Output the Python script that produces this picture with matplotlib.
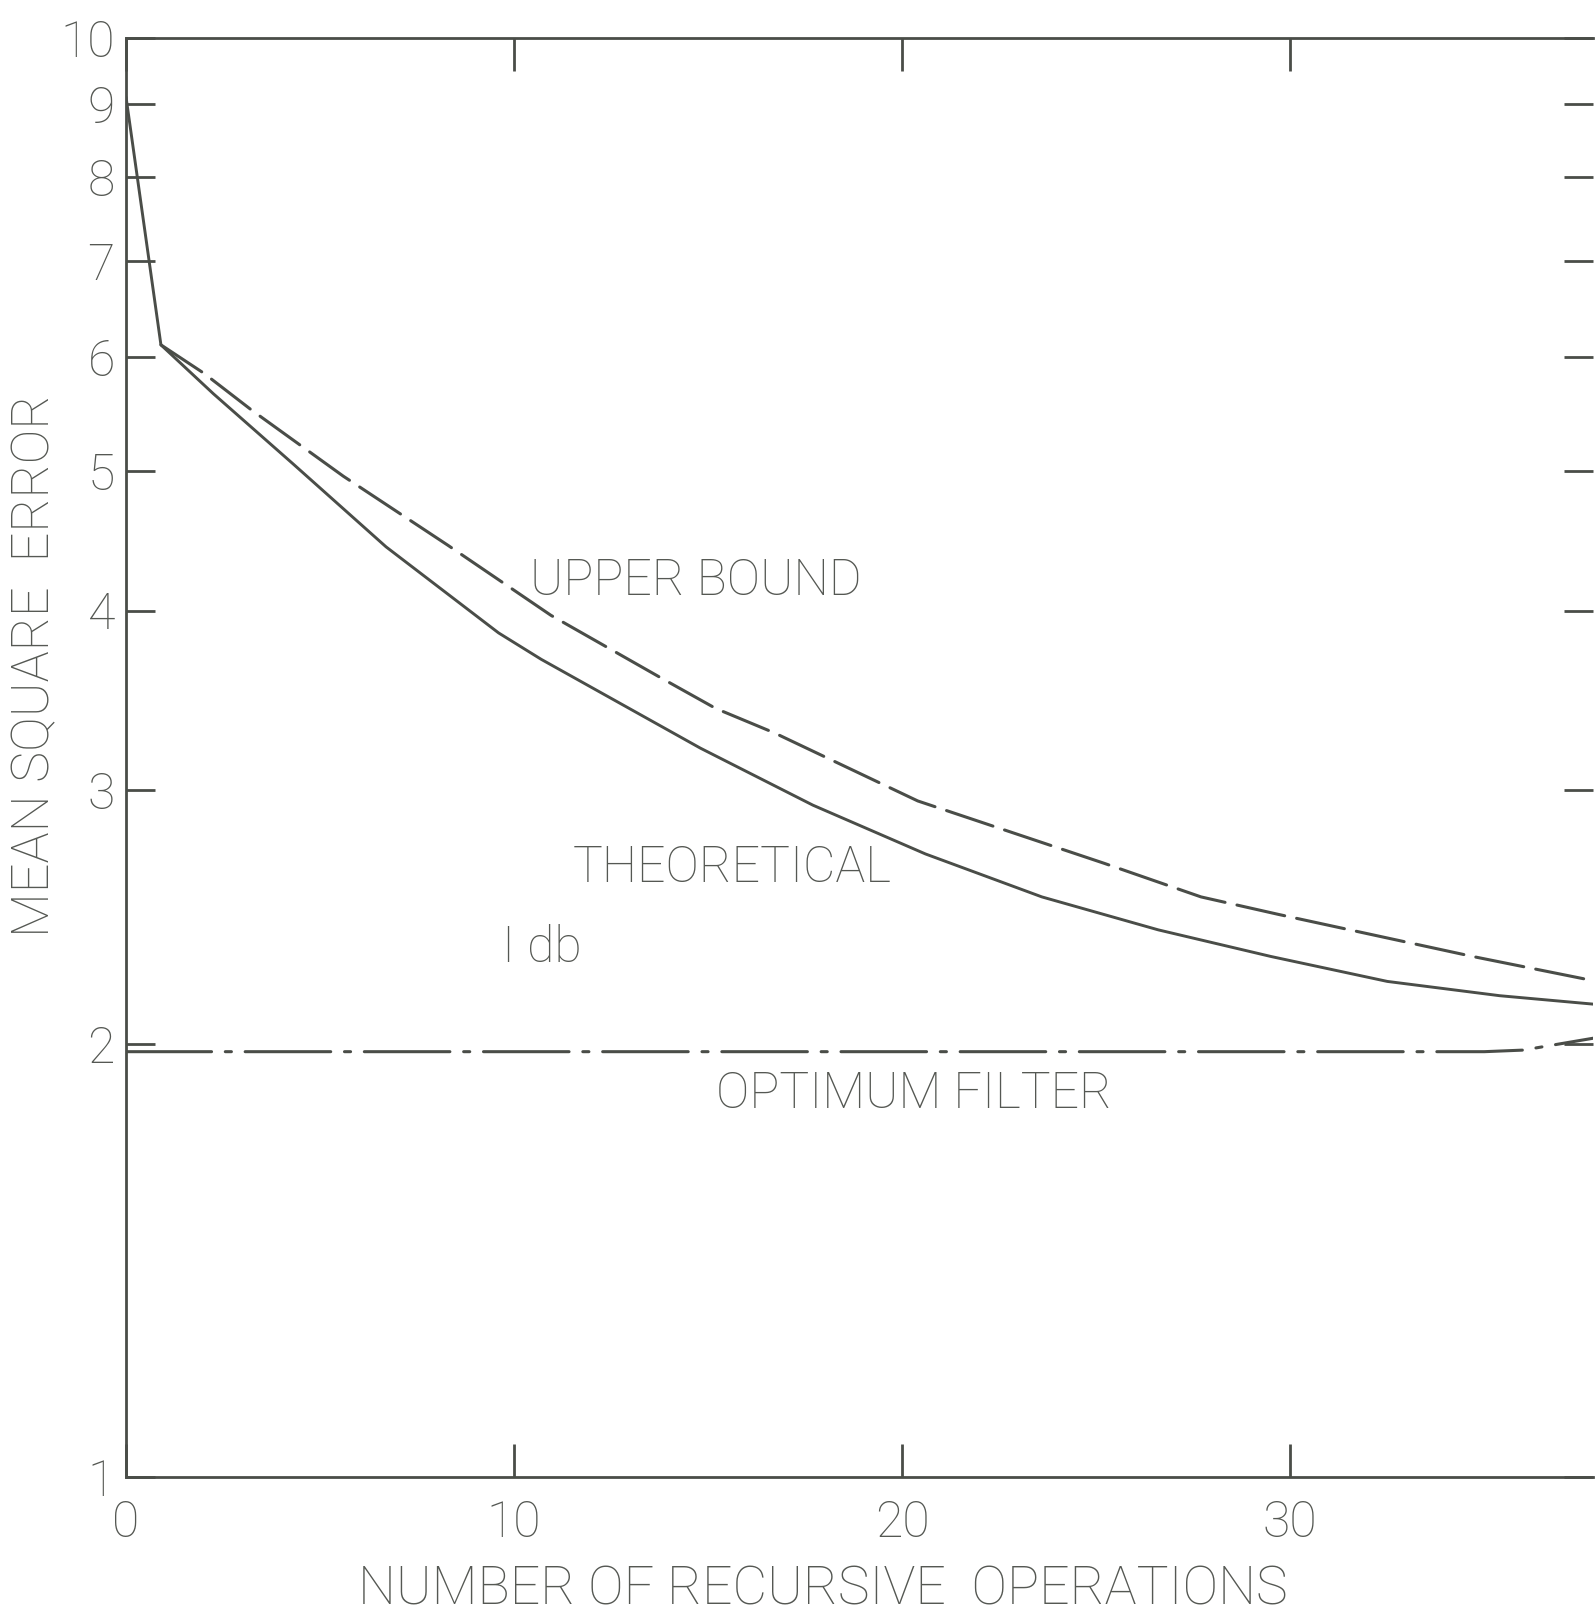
import matplotlib
matplotlib.use("Agg")
import matplotlib.pyplot as plt
from matplotlib.ticker import FixedLocator, NullLocator

# ---- data ----
theo_x = [0, 0.9, 2.25, 4.3, 6.7, 9.6, 10.7, 14.8, 17.7, 20.6, 23.6, 26.6, 29.5,
          32.5, 35.4, 37.9]
theo_y = [9.1, 6.12, 5.66, 5.06, 4.43, 3.86, 3.70, 3.21, 2.93, 2.71, 2.53, 2.40,
          2.30, 2.21, 2.16, 2.13]

upper_x = [0.9, 2.0, 3.25, 5.6, 8.3, 10.95, 13.8, 15.2, 16.7, 20.4, 25.2, 27.7,
           29.7, 34.7, 37.9]
upper_y = [6.12, 5.85, 5.51, 4.96, 4.44, 3.97, 3.59, 3.42, 3.29, 2.95, 2.67, 2.53,
           2.46, 2.30, 2.21]

opt_x = [0, 10, 20, 30, 35, 36.0, 37.9]
opt_y = [1.975, 1.975, 1.975, 1.975, 1.975, 1.98, 2.02]

x_ticks = [0, 10, 20, 30]
x_ticklabels = ["0", "10", "20", "30"]
y_ticks = [1, 2, 3, 4, 5, 6, 7, 8, 9, 10]
y_ticklabels = ["1", "2", "3", "4", "5", "6", "7", "8", "9", "10"]

annotations = [("UPPER BOUND", 10.4, 4.19), ("THEORETICAL", 11.5, 2.65),
               ("I db", 9.7, 2.33), ("OPTIMUM FILTER", 15.2, 1.845)]

# ---- figure ----
W, H = 1596, 1621
fig = plt.figure(figsize=(W / 100, H / 100), dpi=100)
left, right, top, bottom = 126, 1593, 38, 1477
ax = fig.add_axes([left / W, 1 - bottom / H, (right - left) / W, (bottom - top) / H])

ink = "#4a4d48"
txt = "#555853"
FONT = "Roboto"
FS = 36
WEIGHT = "light"

ax.plot(theo_x, theo_y, color=ink, lw=2.1, solid_capstyle="round")
ax.plot(upper_x, upper_y, color=ink, lw=2.2, dashes=(16, 4), dash_capstyle="round")
ax.plot(opt_x, opt_y, color=ink, lw=2.2, dashes=(28, 4.5, 2, 4.5), dash_capstyle="round")

ax.set_yscale("log")
ax.set_xlim(0, 37.8)
ax.set_ylim(1, 10)
ax.yaxis.set_major_locator(FixedLocator(y_ticks))
ax.yaxis.set_minor_locator(NullLocator())
ax.set_yticklabels(y_ticklabels)
ax.set_xticks(x_ticks)
ax.set_xticklabels(x_ticklabels)

for s in ["left", "bottom", "top"]:
    ax.spines[s].set_color(ink)
    ax.spines[s].set_linewidth(2.0)
ax.spines["right"].set_visible(False)

ax.tick_params(axis="y", which="major", direction="in", length=21, width=2.0,
               color=ink, left=True, right=True, pad=8, labelsize=FS, labelcolor=txt)
ax.tick_params(axis="x", which="major", direction="in", length=24, width=2.0,
               color=ink, top=True, bottom=True, pad=16, labelsize=FS, labelcolor=txt)
for lab in ax.get_xticklabels() + ax.get_yticklabels():
    lab.set_family(FONT)
    lab.set_weight(WEIGHT)

for s, xv, yv in annotations:
    ax.text(xv, yv, s, fontsize=FS, family=FONT, weight=WEIGHT, color=txt,
            ha="left", va="center")

fig.text(823 / W, 1 - 1590 / H, "NUMBER OF RECURSIVE  OPERATIONS", fontsize=38.5,
         family=FONT, weight=WEIGHT, color=txt, ha="center", va="center")
fig.text(35 / W, 1 - 666 / H, "MEAN SQUARE  ERROR", fontsize=37.5, rotation=90,
         family=FONT, weight=WEIGHT, color=txt, ha="center", va="center")

fig.savefig("out.png", dpi=100, facecolor="white")
